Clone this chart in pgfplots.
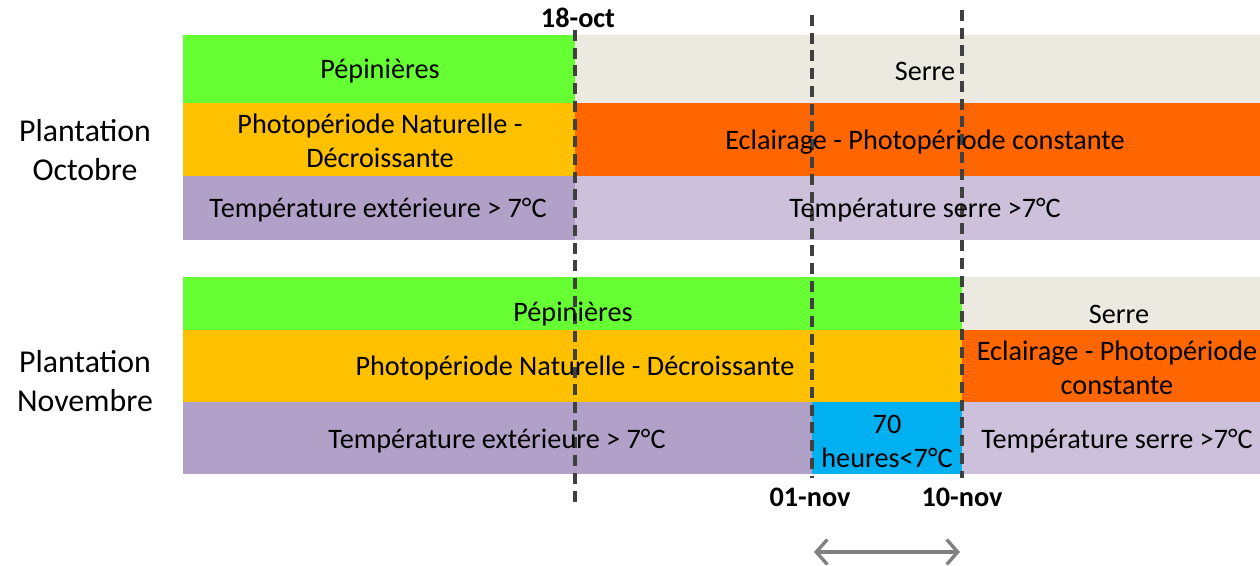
\documentclass[border=0pt]{standalone}
\usepackage{pgfplots}
\pgfplotsset{compat=1.18}
\usepackage{fontspec}
\setmainfont{Carlito}
\usetikzlibrary{arrows.meta}

\definecolor{cGreen}{HTML}{66FF33}
\definecolor{cBeige}{HTML}{ECEAE0}
\definecolor{cYellow}{HTML}{FFC000}
\definecolor{cOrange}{HTML}{FF6600}
\definecolor{cPurple}{HTML}{B1A0C7}
\definecolor{cLilac}{HTML}{CCC0DA}
\definecolor{cBlue}{HTML}{00B0F0}
\definecolor{cDash}{HTML}{404040}
\definecolor{cArrow}{HTML}{808080}

\begin{document}
\begin{tikzpicture}
\begin{axis}[
    scale only axis,
    width=16cm, height=7.187cm,
    xmin=0, xmax=1260, ymin=0, ymax=566,
    y dir=reverse,
    hide axis,
    clip=false,
    every axis plot/.append style={draw=none},
    nodes={font=\fontsize{10.2}{12.3}\selectfont, align=center, inner sep=0pt},
]
% --- Plantation Octobre ---
\addplot[fill=cGreen]  coordinates {(183,35) (575,35) (575,103) (183,103)} -- cycle;
\addplot[fill=cBeige]  coordinates {(575,35) (1260,35) (1260,103) (575,103)} -- cycle;
\addplot[fill=cYellow] coordinates {(183,103) (575,103) (575,176) (183,176)} -- cycle;
\addplot[fill=cOrange] coordinates {(575,103) (1260,103) (1260,176) (575,176)} -- cycle;
\addplot[fill=cPurple] coordinates {(183,176) (575,176) (575,240) (183,240)} -- cycle;
\addplot[fill=cLilac]  coordinates {(575,176) (1260,176) (1260,240) (575,240)} -- cycle;
% --- Plantation Novembre ---
\addplot[fill=cGreen]  coordinates {(183,277) (962,277) (962,330) (183,330)} -- cycle;
\addplot[fill=cBeige]  coordinates {(962,277) (1260,277) (1260,330) (962,330)} -- cycle;
\addplot[fill=cYellow] coordinates {(183,330) (962,330) (962,402) (183,402)} -- cycle;
\addplot[fill=cOrange] coordinates {(962,330) (1260,330) (1260,402) (962,402)} -- cycle;
\addplot[fill=cPurple] coordinates {(183,402) (812,402) (812,474) (183,474)} -- cycle;
\addplot[fill=cBlue]   coordinates {(812,402) (962,402) (962,474) (812,474)} -- cycle;
\addplot[fill=cLilac]  coordinates {(962,402) (1260,402) (1260,474) (962,474)} -- cycle;

% --- dashed date markers ---
\addplot[draw=cDash, line width=1.2pt, dash pattern=on 4pt off 2.4pt] coordinates {(575,30) (575,508)};
\addplot[draw=cDash, line width=1.2pt, dash pattern=on 4pt off 2.4pt] coordinates {(812,15) (812,478)};
\addplot[draw=cDash, line width=1.2pt, dash pattern=on 4pt off 2.4pt] coordinates {(962,10) (962,478)};
% --- duration arrow ---
\addplot[draw=cArrow, line width=1.2pt, {Straight Barb[length=4pt,width=9pt]}-{Straight Barb[length=4pt,width=9pt]}] coordinates {(814,552) (960,552)};

% --- texts ---
\node[font=\fontsize{11.5}{14.3}\selectfont] at (85,150) {Plantation\\Octobre};
\node[font=\fontsize{11.5}{14.3}\selectfont] at (85,381) {Plantation\\Novembre};

\node at (380,71) {Pépinières};
\node at (925,71) {Serre};
\node at (380,141) {Photopériode Naturelle -\\Décroissante};
\node at (925,142) {Eclairage - Photopériode constante};
\node at (378,210) {Température extérieure > 7°C};
\node at (925,210) {Température serre >7°C};

\node at (573,314) {Pépinières};
\node at (1119,314) {Serre};
\node at (575,368) {Photopériode Naturelle - Décroissante};
\node at (1117,368) {Eclairage - Photopériode\\constante};
\node at (497,441) {Température extérieure > 7°C};
\node at (887,441) {70\\heures<7°C};
\node at (1117,441) {Température serre >7°C};

\node[font=\fontsize{10.2}{12.3}\selectfont\bfseries] at (578,18) {18-oct};
\node[font=\fontsize{10.2}{12.3}\selectfont\bfseries] at (810,497) {01-nov};
\node[font=\fontsize{10.2}{12.3}\selectfont\bfseries] at (962,497) {10-nov};
\end{axis}
\pgfresetboundingbox
\path (0,0) rectangle (16cm,7.187cm);
\end{tikzpicture}
\end{document}
